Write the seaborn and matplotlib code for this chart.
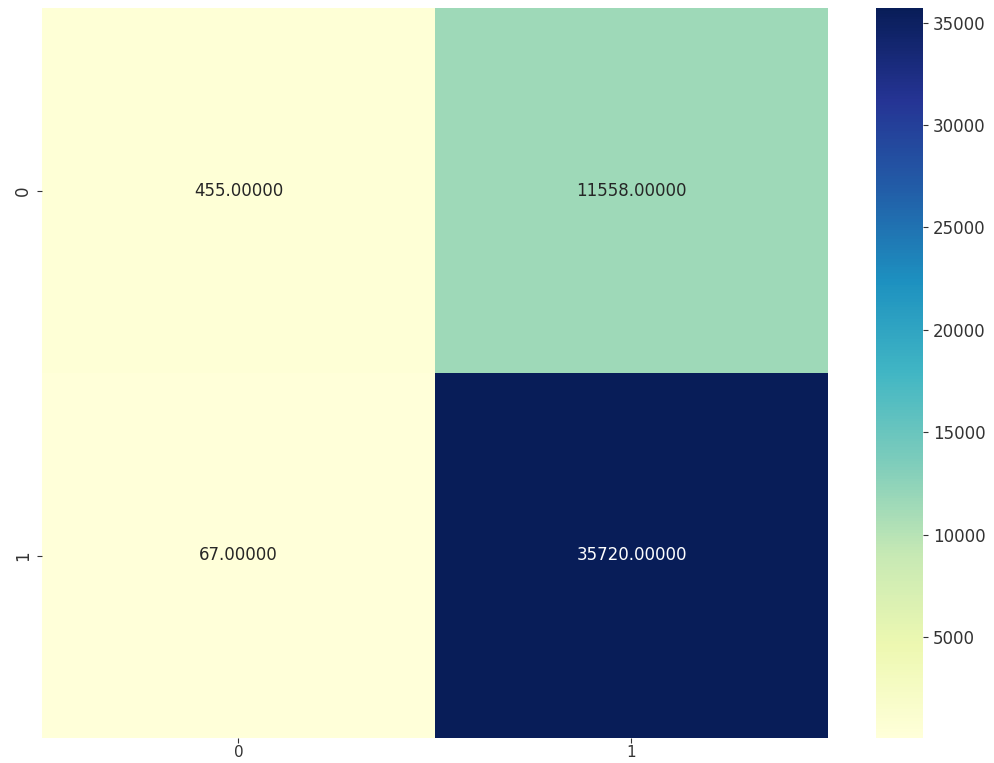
import numpy as np
import pandas as pd
import seaborn as sns
import matplotlib
matplotlib.use("Agg")
import matplotlib.pyplot as plt

# Confusion-matrix counts
row_labels = ["0", "1"]
col_labels = ["0", "1"]
row0 = [455, 11558]
row1 = [67, 35720]

matrix = pd.DataFrame([row0, row1], index=row_labels, columns=col_labels)

fig = plt.figure(figsize=(9.95, 7.63), dpi=100)
ax = fig.add_axes([42 / 995, 25 / 763, 786 / 995, 730 / 763])
cax = fig.add_axes([876 / 995, 25 / 763, 47 / 995, 730 / 763])

sns.heatmap(matrix, annot=True, fmt=".5f", cmap="YlGnBu", ax=ax, cbar_ax=cax,
            annot_kws={"fontsize": 12})

ax.tick_params(axis="y", labelsize=12, colors="#333333", labelcolor="#333333")
ax.tick_params(axis="x", labelsize=11, colors="#333333", labelcolor="#333333",
               pad=1.5)
cax.tick_params(labelsize=12, colors="#333333", labelcolor="#333333")
cax.set_yticks([5000, 10000, 15000, 20000, 25000, 30000, 35000])

fig.savefig("out.png", dpi=100)
